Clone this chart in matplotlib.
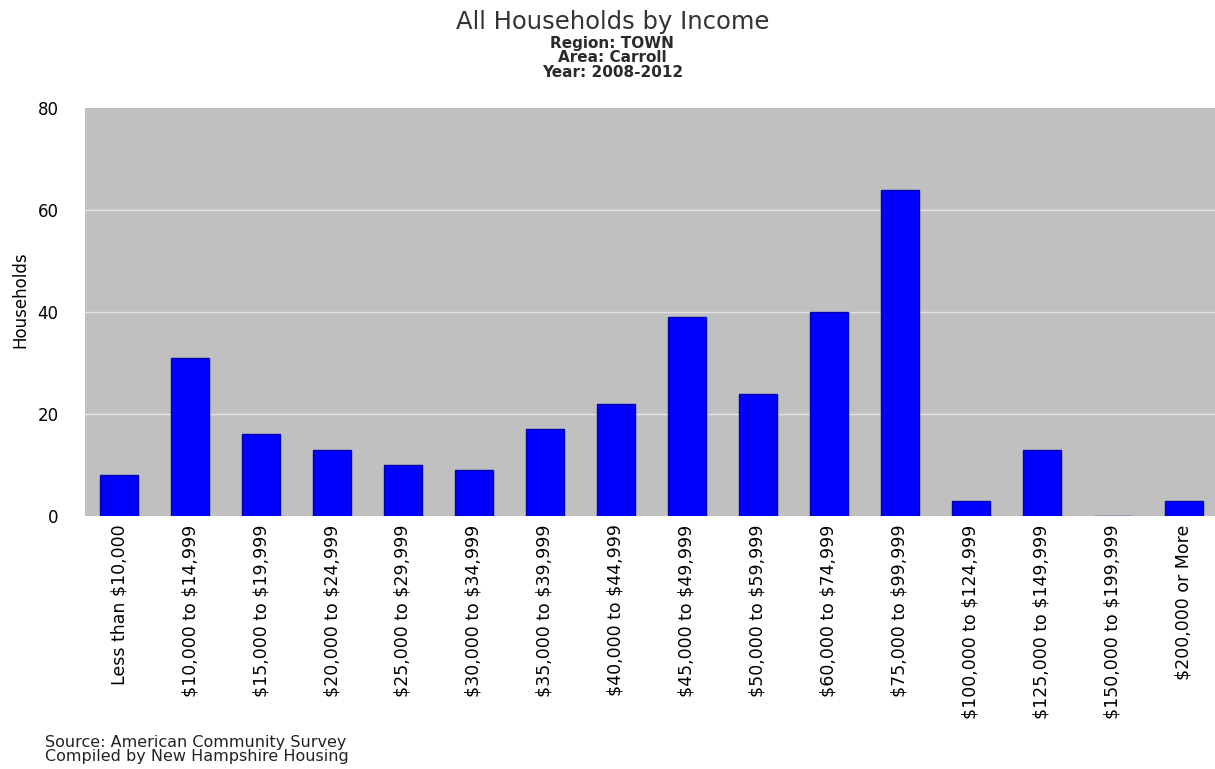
import matplotlib.pyplot as plt
import numpy as np

plt.rcParams["text.parse_math"] = False

# Household counts by income bracket (Carroll, 2008-2012 ACS)
categorias = [
    "Less than $10,000", "$10,000 to $14,999", "$15,000 to $19,999",
    "$20,000 to $24,999", "$25,000 to $29,999", "$30,000 to $34,999",
    "$35,000 to $39,999", "$40,000 to $44,999", "$45,000 to $49,999",
    "$50,000 to $59,999", "$60,000 to $74,999", "$75,000 to $99,999",
    "$100,000 to $124,999", "$125,000 to $149,999", "$150,000 to $199,999",
    "$200,000 or More",
]
hogares = [8, 31, 16, 13, 10, 9, 17, 22, 39, 24, 40, 64, 3, 13, 0, 3]
y_ticks = [0, 20, 40, 60, 80]

fig = plt.figure(figsize=(12.15, 7.69), dpi=100)
ax = fig.add_axes([85 / 1215, 1 - 516 / 769, 1130 / 1215, 408 / 769])

x = np.arange(len(categorias))
ax.set_facecolor("#c0c0c0")
for y in y_ticks[1:-1]:
    ax.axhline(y, color="#e4e4e4", linewidth=1, zorder=1)
ax.bar(x, hogares, width=0.53, color="#0000ff", edgecolor="#0000b0",
       linewidth=1, zorder=2)

ax.set_xlim(-0.48, 15.44)
ax.set_ylim(0, 80)
ax.set_yticks(y_ticks)
ax.set_yticklabels([str(v) for v in y_ticks], fontsize=12)
ax.set_xticks(x)
ax.set_xticklabels(categorias, rotation=90, fontsize=12.5, va="top")
ax.tick_params(length=0, pad=6)
ax.tick_params(axis="y", pad=19)
for s in ax.spines.values():
    s.set_visible(False)

fig.text(20 / 1215, 1 - 300 / 769, "Households", rotation=90, fontsize=12,
         ha="center", va="center")

fig.text(0.504, 1 - 22 / 769, "All Households by Income", fontsize=17.5,
         ha="center", va="center", color="#333333")
subtitulos = ["Region: TOWN", "Area: Carroll", "Year: 2008-2012"]
for i, linea in enumerate(subtitulos):
    fig.text(0.504, 1 - (43.5 + 14.5 * i) / 769, linea, fontsize=11,
             ha="center", va="center", fontweight="bold", color="#2a2a2a")

fig.text(45 / 1215, 1 - 742 / 769, "Source: American Community Survey",
         fontsize=11.5, ha="left", va="center", color="#222222")
fig.text(45 / 1215, 1 - 757 / 769, "Compiled by New Hampshire Housing",
         fontsize=11.5, ha="left", va="center", color="#222222")

plt.savefig("out.png", dpi=100)
